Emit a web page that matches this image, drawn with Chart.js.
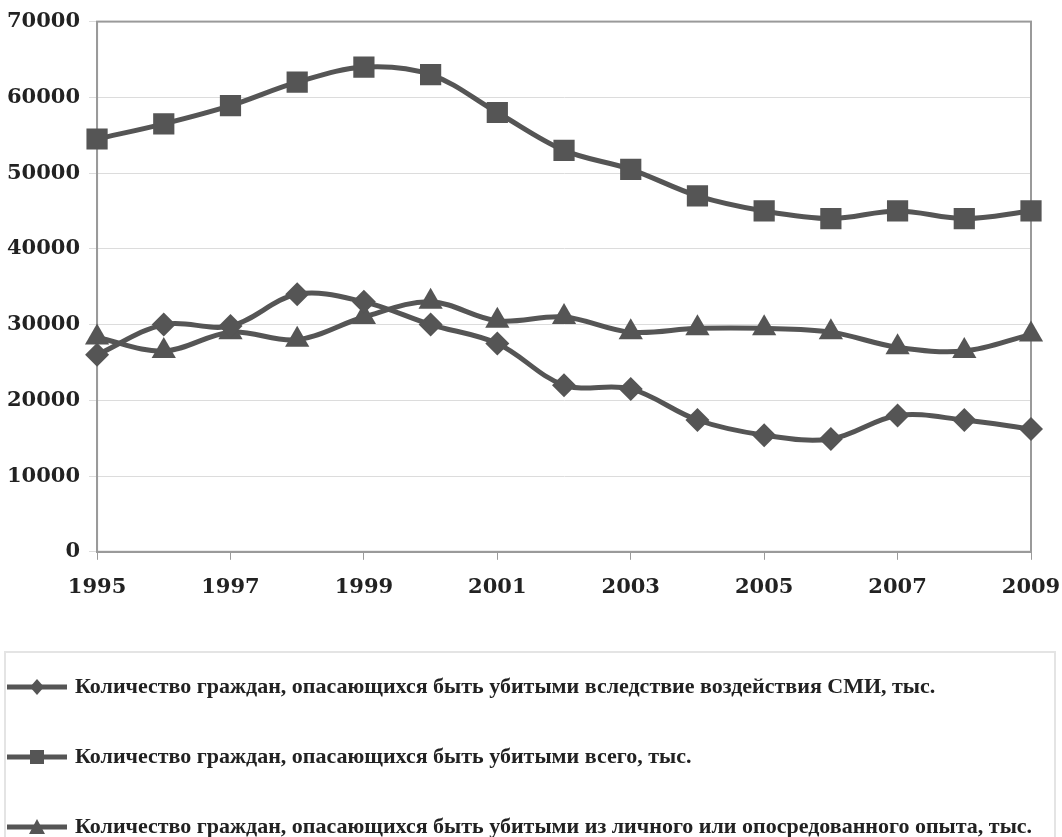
<!DOCTYPE html>
<html>
<head>
<meta charset="utf-8">
<script src="https://cdn.jsdelivr.net/npm/chart.js@4.4.1/dist/chart.umd.min.js"></script>
<style>
  html, body { margin: 0; padding: 0; background: #fff; overflow: hidden; }
  #wrap { position: relative; width: 1062px; height: 848px; }
</style>
</head>
<body>
<div id="wrap"><canvas id="chart1"></canvas></div>
<script>
const years = ['1995', '1996', '1997', '1998', '1999', '2000', '2001', '2002',
  '2003', '2004', '2005', '2006', '2007', '2008', '2009'];

// тыс. человек
const smi = [26000, 30000, 29800, 34000, 33000, 30000, 27500, 22000,
  21500, 17400, 15400, 14900, 18000, 17400, 16200];
const total = [54500, 56500, 58900, 62000, 64000, 63000, 58000, 53000,
  50500, 47000, 45000, 44000, 45000, 44000, 45000];
const personal = [28300, 26500, 29000, 28000, 31000, 33000, 30500, 31000,
  29000, 29500, 29500, 29000, 27000, 26500, 28700];

const seriesNames = [
  'Количество граждан, опасающихся быть убитыми вследствие воздействия СМИ, тыс.',
  'Количество граждан, опасающихся быть убитыми всего, тыс.',
  'Количество граждан, опасающихся быть убитыми из личного или опосредованного опыта, тыс.'
];

const lineColor = '#555555';
const tickFont = { family: 'DejaVu Serif', size: 21, weight: 'bold' };

// small picture for the legend: line with the marker in the middle
function legendMarker(style) {
  const c = document.createElement('canvas');
  c.width = 60; c.height = 22;
  const ctx = c.getContext('2d');
  ctx.strokeStyle = lineColor;
  ctx.fillStyle = lineColor;
  ctx.lineWidth = 5;
  ctx.beginPath(); ctx.moveTo(0, 11); ctx.lineTo(60, 11); ctx.stroke();
  ctx.beginPath();
  if (style === 'rectRot') {
    ctx.moveTo(30, 3); ctx.lineTo(37, 11); ctx.lineTo(30, 19); ctx.lineTo(23, 11);
  } else if (style === 'rect') {
    ctx.rect(23, 4, 14, 14);
  } else {
    ctx.moveTo(30, 3); ctx.lineTo(38, 18); ctx.lineTo(22, 18);
  }
  ctx.closePath(); ctx.fill();
  return c;
}

const pointStyles = ['rectRot', 'rect', 'triangle'];
const pointSizes = [12, 15, 14];

const frame = {
  id: 'frame',
  afterLayout(chart) {
    chart.legend.left = -38;
  },
  beforeDatasetsDraw(chart) {
    const a = chart.chartArea, ctx = chart.ctx;
    ctx.save();
    ctx.strokeStyle = '#9a9a9a';
    ctx.lineWidth = 2;
    ctx.strokeRect(a.left, a.top, a.right - a.left, a.bottom - a.top);
    ctx.restore();
  },
  afterDraw(chart) {
    const lg = chart.legend, ctx = chart.ctx;
    ctx.save();
    ctx.strokeStyle = '#e4e4e4';
    ctx.lineWidth = 2;
    ctx.strokeRect(5, lg.top + 24, chart.width - 12, lg.bottom);
    ctx.restore();
  }
};

const config = {
  type: 'line',
  data: {
    labels: years,
    datasets: [smi, total, personal].map((d, i) => ({
      label: seriesNames[i],
      data: d,
      borderColor: lineColor,
      backgroundColor: lineColor,
      borderWidth: 5,
      tension: 0.35,
      pointStyle: pointStyles[i],
      pointRadius: pointSizes[i],
      pointBorderWidth: 0,
      pointBackgroundColor: lineColor
    }))
  },
  options: {
    responsive: true,
    maintainAspectRatio: false,
    animation: false,
    layout: { padding: { left: -2, right: 0, top: 8, bottom: 0 } },
    scales: {
      x: {
        offset: false,
        grid: {
          drawOnChartArea: false,
          tickLength: 8,
          color: ctx => (ctx.index % 2 === 0 ? '#9a9a9a' : 'rgba(0,0,0,0)')
        },
        border: { color: '#9a9a9a', width: 2 },
        ticks: {
          autoSkip: false,
          maxRotation: 0,
          padding: 15,
          color: '#222',
          font: tickFont,
          callback: (v, i) => (i % 2 === 0 ? years[i] : '')
        },
        afterFit: s => { s.height += 13; s.paddingRight = 31; }
      },
      y: {
        min: 0,
        max: 70000,
        grid: { color: '#dcdcdc', tickLength: 8 },
        border: { color: '#9a9a9a', width: 2 },
        ticks: {
          stepSize: 10000,
          padding: 9,
          color: '#222',
          font: tickFont,
          callback: v => String(v)
        }
      }
    },
    plugins: {
      legend: {
        position: 'bottom',
        align: 'start',
        labels: {
          usePointStyle: true,
          pointStyleWidth: 54,
          padding: 48,
          color: '#222',
          font: { family: 'Liberation Serif', size: 22, weight: 'bold' },
          generateLabels: chart => chart.data.datasets.map((ds, i) => ({
            text: ds.label,
            pointStyle: legendMarker(pointStyles[i]),
            fillStyle: lineColor,
            strokeStyle: lineColor,
            lineWidth: 0,
            fontColor: '#222',
            datasetIndex: i
          }))
        }
      },
      tooltip: { enabled: false }
    }
  },
  plugins: [frame]
};

var myChart = new Chart(
  document.getElementById('chart1'),
  config
);
</script>
</body>
</html>
